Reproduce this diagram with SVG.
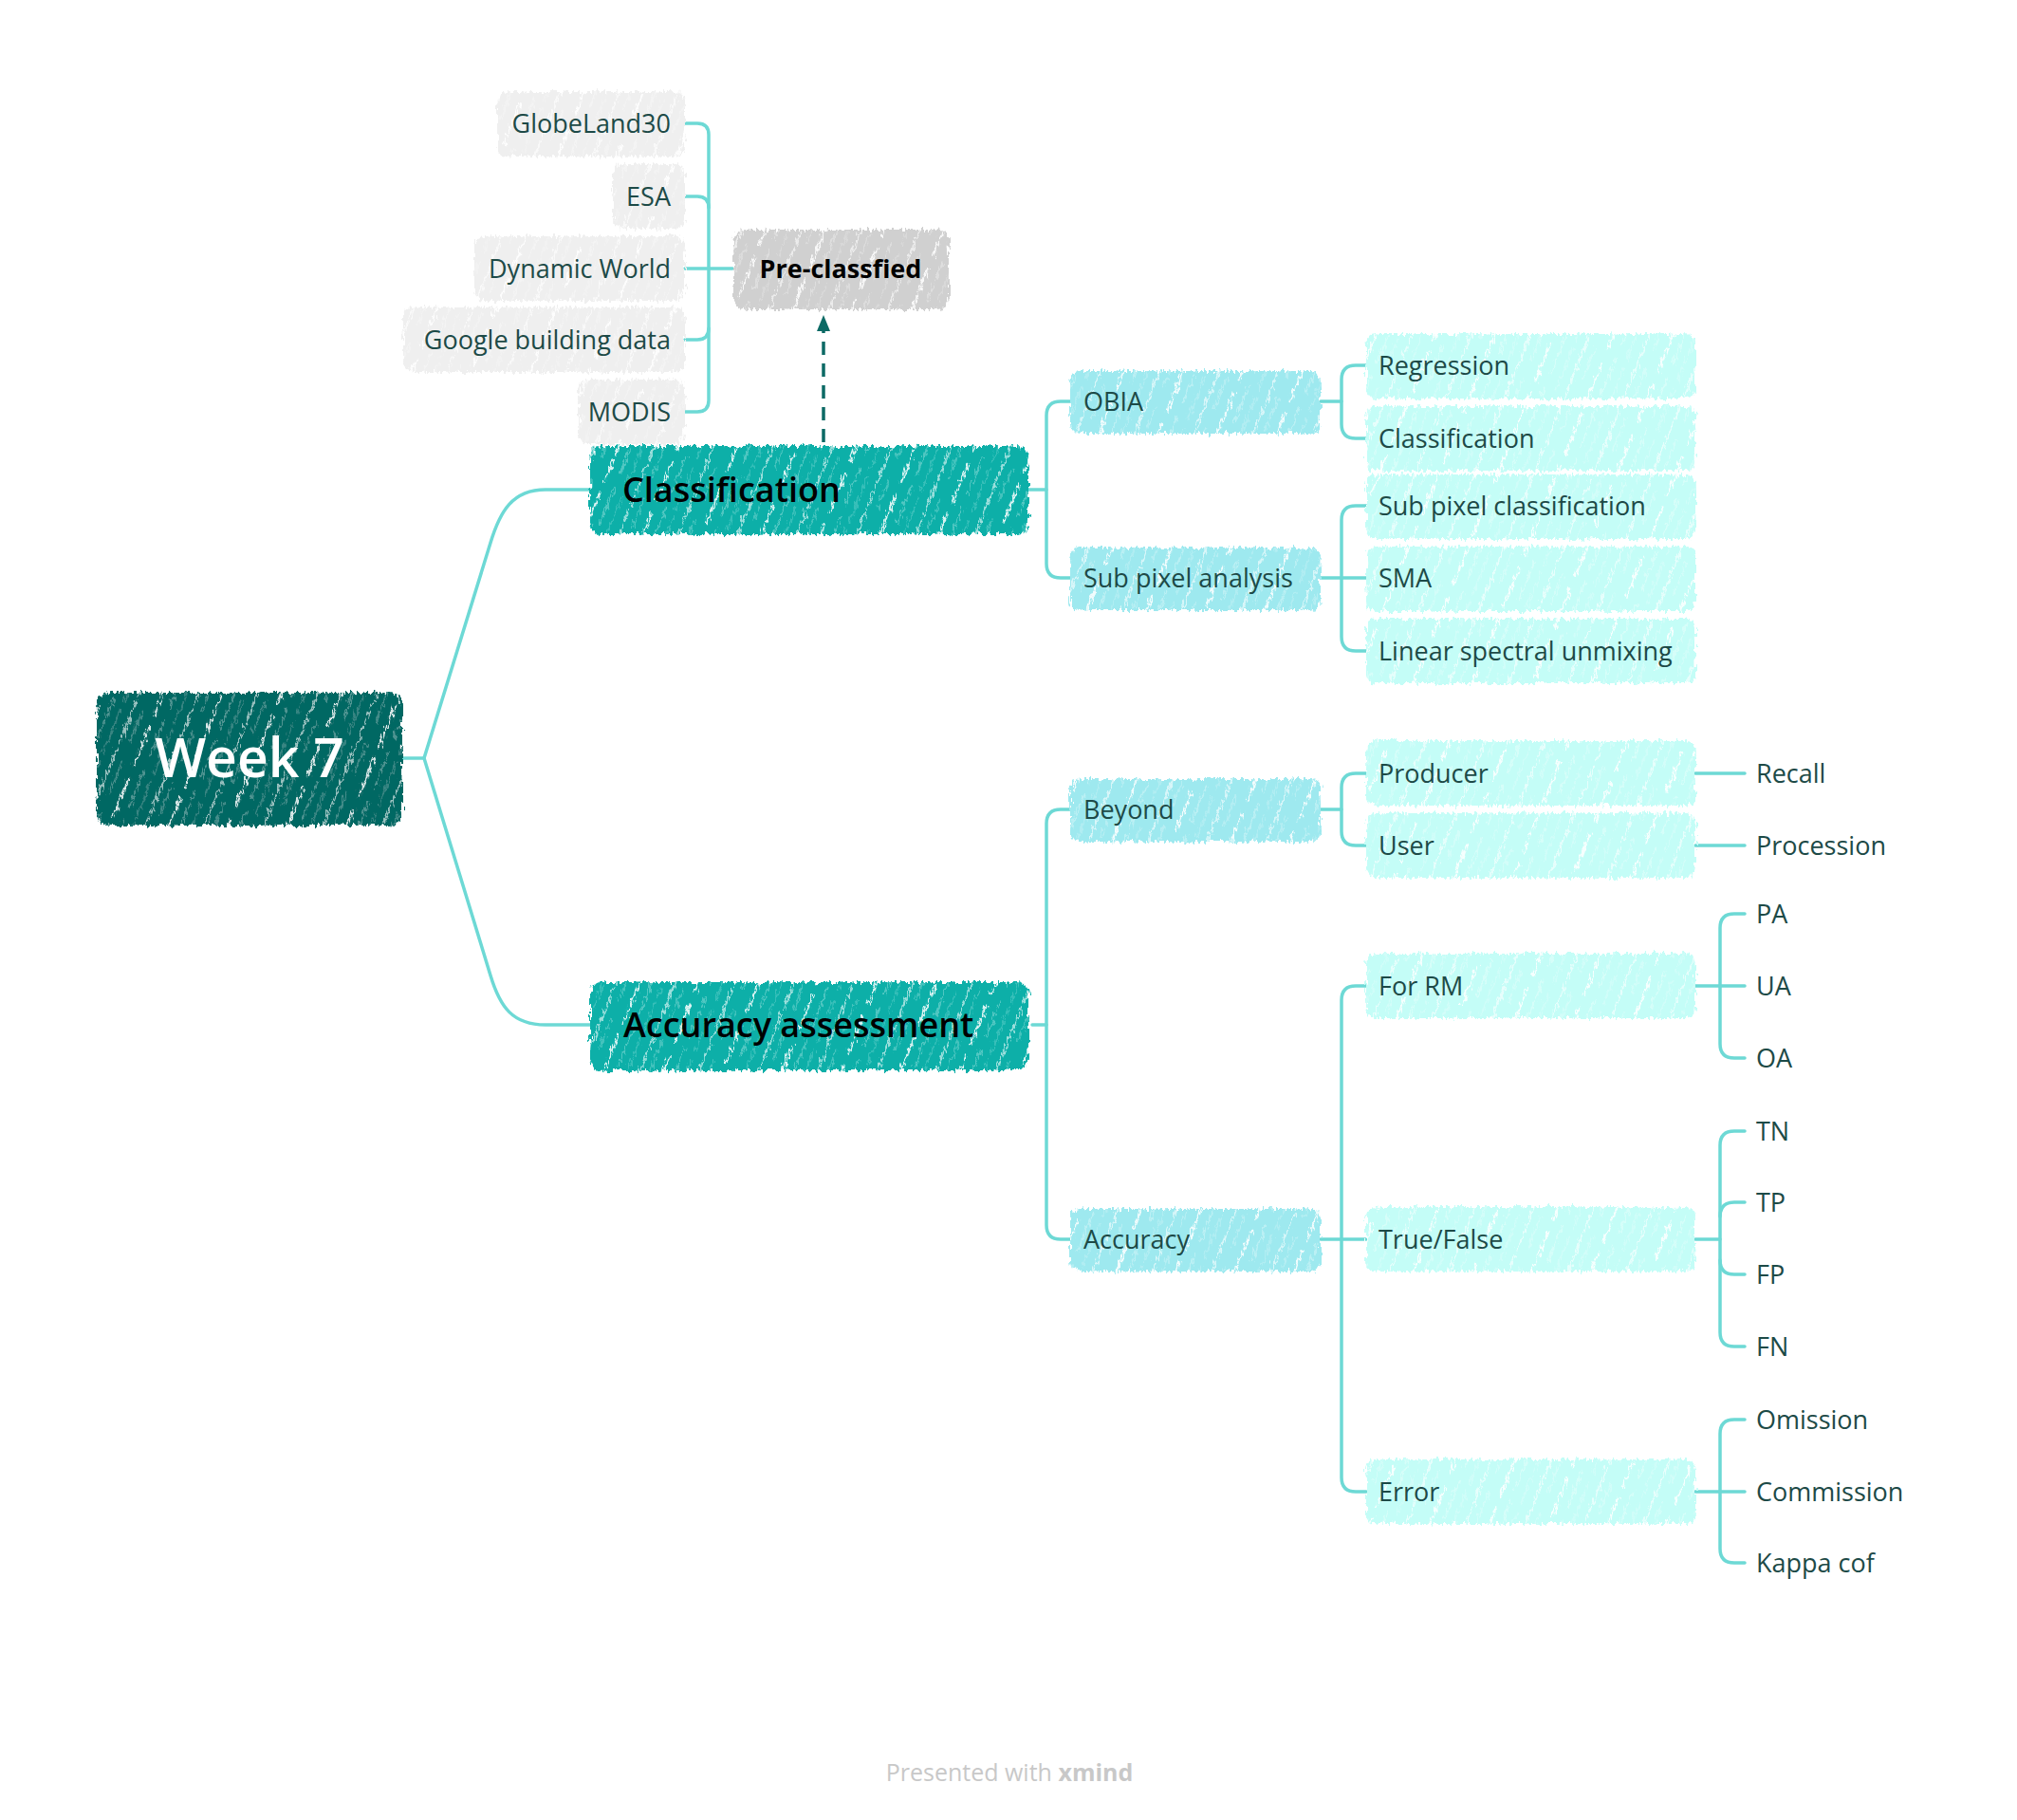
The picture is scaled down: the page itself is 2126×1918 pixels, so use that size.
<svg xmlns="http://www.w3.org/2000/svg" width="2126" height="1918" viewBox="0 0 2126 1918">
<defs>
<style>
.conn{fill:none;stroke:#6dd9d5;stroke-width:3.5;stroke-linecap:round;stroke-linejoin:round}
.t{font-family:"Open Sans","Liberation Sans",sans-serif;font-size:27px;fill:#1d4a47}
.tr{text-anchor:end}
.b1{font-family:"Open Sans","Liberation Sans",sans-serif;font-size:36px;font-weight:600;fill:#000}
.gray{fill:#efefef}
.pre{fill:#d0d0d0}
.l2{fill:#9ee9ef}
.l3{fill:#c4fdf7}
.main{fill:#07afa8}
.root{fill:#066763}
.hatch{fill:url(#hatch)}
.box{filter:url(#rough)}
</style>
<pattern id="hatch" width="58" height="58" patternUnits="userSpaceOnUse" patternTransform="rotate(22)">
<line x1="4" y1="0" x2="4" y2="58" stroke="#ffffff" stroke-opacity="0.75" stroke-width="1.6"/>
<line x1="14" y1="0" x2="14" y2="36" stroke="#ffffff" stroke-opacity="0.45" stroke-width="1.1"/>
<line x1="27" y1="12" x2="27" y2="58" stroke="#ffffff" stroke-opacity="0.85" stroke-width="2.2"/>
<line x1="39" y1="0" x2="39" y2="44" stroke="#ffffff" stroke-opacity="0.5" stroke-width="1.2"/>
<line x1="50" y1="8" x2="50" y2="58" stroke="#ffffff" stroke-opacity="0.4" stroke-width="1"/>
</pattern>
<filter id="rough" x="-5%" y="-15%" width="110%" height="130%">
<feTurbulence type="fractalNoise" baseFrequency="0.35 0.12" numOctaves="2" seed="3" result="n"/>
<feDisplacementMap in="SourceGraphic" in2="n" scale="10" xChannelSelector="R" yChannelSelector="G"/>
</filter>
</defs>
<rect width="2126" height="1918" fill="#ffffff"/>

<g id="connectors">
<path class="conn" d="M424,799 H447 L517,572 C527,539 540,516 575,516 H623"/>
<path class="conn" d="M447,799 L517,1028 C527,1061 540,1080 575,1080 H623"/>
<path class="conn" d="M772,283 H722"/>
<path class="conn" d="M722,130 H735 Q747,130 747,142 V422 Q747,434 735,434 H722"/>
<path class="conn" d="M722,207 H735 Q747,207 747,219"/>
<path class="conn" d="M722,358 H735 Q747,358 747,346"/>
<path class="conn" d="M1083,516 H1103"/>
<path class="conn" d="M1128,423 H1118 Q1103,423 1103,438 V594 Q1103,609 1118,609 H1128"/>
<path class="conn" d="M1392,423 H1414"/>
<path class="conn" d="M1440,385 H1429 Q1414,385 1414,400 V447 Q1414,462 1429,462 H1440"/>
<path class="conn" d="M1392,609 H1440"/>
<path class="conn" d="M1440,533 H1429 Q1414,533 1414,548 V671 Q1414,686 1429,686 H1440"/>
<path class="conn" d="M1088,1080 H1103"/>
<path class="conn" d="M1128,853 H1118 Q1103,853 1103,868 V1291 Q1103,1306 1118,1306 H1128"/>
<path class="conn" d="M1392,853 H1414"/>
<path class="conn" d="M1440,815 H1429 Q1414,815 1414,830 V876 Q1414,891 1429,891 H1440"/>
<path class="conn" d="M1392,1306 H1440"/>
<path class="conn" d="M1440,1039 H1429 Q1414,1039 1414,1054 V1557 Q1414,1572 1429,1572 H1440"/>
<path class="conn" d="M1787,815 H1839"/>
<path class="conn" d="M1787,891 H1839"/>
<path class="conn" d="M1787,1039 H1839"/>
<path class="conn" d="M1839,963 H1828 Q1813,963 1813,978 V1100 Q1813,1115 1828,1115 H1839"/>
<path class="conn" d="M1787,1306 H1813"/>
<path class="conn" d="M1839,1192 H1828 Q1813,1192 1813,1207 V1404 Q1813,1419 1828,1419 H1839"/>
<path class="conn" d="M1813,1282 Q1813,1267 1828,1267 H1839"/>
<path class="conn" d="M1813,1328 Q1813,1343 1828,1343 H1839"/>
<path class="conn" d="M1787,1572 H1839"/>
<path class="conn" d="M1839,1496 H1828 Q1813,1496 1813,1511 V1632 Q1813,1647 1828,1647 H1839"/>
<line x1="868" y1="466" x2="868" y2="348" stroke="#0c6a65" stroke-width="3.5" stroke-dasharray="14 9"/>
<polygon points="868,332 861,349 875,349" fill="#0c6a65"/>
</g>

<g id="node-week7">
<g class="box"><rect x="102" y="730" width="322" height="140" rx="14" class="root"/><rect x="102" y="730" width="322" height="140" rx="14" class="hatch"/></g>
<text x="263" y="819" text-anchor="middle" font-family="'Open Sans','Liberation Sans',sans-serif" font-size="57" font-weight="600" fill="#ffffff">Week 7</text>
</g>

<g id="node-classification">
<g class="box"><rect x="622" y="470" width="462" height="93" rx="12" class="main"/><rect x="622" y="470" width="462" height="93" rx="12" class="hatch"/></g>
<text x="656" y="529" class="b1">Classification</text>
</g>

<g id="node-accuracy-assessment">
<g class="box"><rect x="622" y="1035" width="462" height="93" rx="12" class="main"/><rect x="622" y="1035" width="462" height="93" rx="12" class="hatch"/></g>
<text x="657" y="1093" class="b1">Accuracy assessment</text>
</g>

<g id="node-preclassified">
<g class="box"><rect x="773" y="242" width="227" height="84" rx="12" class="pre"/><rect x="773" y="242" width="227" height="84" rx="12" class="hatch"/></g>
<text x="886" y="293" text-anchor="middle" font-family="'Open Sans','Liberation Sans',sans-serif" font-size="27" font-weight="700" fill="#000">Pre-classfied</text>
</g>

<g id="node-globeland30">
<g class="box"><rect x="524" y="97" width="198" height="68" rx="10" class="gray"/><rect x="524" y="97" width="198" height="68" rx="10" class="hatch"/></g>
<text x="707" y="140" class="t tr">GlobeLand30</text>
</g>
<g id="node-esa">
<g class="box"><rect x="646" y="173" width="76" height="68" rx="10" class="gray"/><rect x="646" y="173" width="76" height="68" rx="10" class="hatch"/></g>
<text x="707" y="217" class="t tr">ESA</text>
</g>
<g id="node-dynamic-world">
<g class="box"><rect x="500" y="249" width="222" height="68" rx="10" class="gray"/><rect x="500" y="249" width="222" height="68" rx="10" class="hatch"/></g>
<text x="707" y="293" class="t tr">Dynamic World</text>
</g>
<g id="node-google-building-data">
<g class="box"><rect x="425" y="324" width="297" height="68" rx="10" class="gray"/><rect x="425" y="324" width="297" height="68" rx="10" class="hatch"/></g>
<text x="707" y="368" class="t tr">Google building data</text>
</g>
<g id="node-modis">
<g class="box"><rect x="610" y="400" width="112" height="68" rx="10" class="gray"/><rect x="610" y="400" width="112" height="68" rx="10" class="hatch"/></g>
<text x="707" y="444" class="t tr">MODIS</text>
</g>

<g id="node-obia">
<g class="box"><rect x="1128" y="391" width="264" height="66" rx="10" class="l2"/><rect x="1128" y="391" width="264" height="66" rx="10" class="hatch"/></g>
<text x="1142" y="433" class="t">OBIA</text>
</g>
<g id="node-sub-pixel-analysis">
<g class="box"><rect x="1128" y="577" width="264" height="66" rx="10" class="l2"/><rect x="1128" y="577" width="264" height="66" rx="10" class="hatch"/></g>
<text x="1142" y="619" class="t">Sub pixel analysis</text>
</g>
<g id="node-beyond">
<g class="box"><rect x="1128" y="821" width="264" height="66" rx="10" class="l2"/><rect x="1128" y="821" width="264" height="66" rx="10" class="hatch"/></g>
<text x="1142" y="863" class="t">Beyond</text>
</g>
<g id="node-accuracy">
<g class="box"><rect x="1128" y="1274" width="264" height="66" rx="10" class="l2"/><rect x="1128" y="1274" width="264" height="66" rx="10" class="hatch"/></g>
<text x="1142" y="1316" class="t">Accuracy</text>
</g>

<g id="node-regression">
<g class="box"><rect x="1440" y="352" width="347" height="68" rx="10" class="l3"/><rect x="1440" y="352" width="347" height="68" rx="10" class="hatch"/></g>
<text x="1453" y="395" class="t">Regression</text>
</g>
<g id="node-classification-2">
<g class="box"><rect x="1440" y="428" width="347" height="68" rx="10" class="l3"/><rect x="1440" y="428" width="347" height="68" rx="10" class="hatch"/></g>
<text x="1453" y="472" class="t">Classification</text>
</g>
<g id="node-sub-pixel-classification">
<g class="box"><rect x="1440" y="500" width="347" height="68" rx="10" class="l3"/><rect x="1440" y="500" width="347" height="68" rx="10" class="hatch"/></g>
<text x="1453" y="543" class="t">Sub pixel classification</text>
</g>
<g id="node-sma">
<g class="box"><rect x="1440" y="576" width="347" height="68" rx="10" class="l3"/><rect x="1440" y="576" width="347" height="68" rx="10" class="hatch"/></g>
<text x="1453" y="619" class="t">SMA</text>
</g>
<g id="node-linear-spectral-unmixing">
<g class="box"><rect x="1440" y="652" width="347" height="68" rx="10" class="l3"/><rect x="1440" y="652" width="347" height="68" rx="10" class="hatch"/></g>
<text x="1453" y="696" class="t">Linear spectral unmixing</text>
</g>
<g id="node-producer">
<g class="box"><rect x="1440" y="781" width="347" height="68" rx="10" class="l3"/><rect x="1440" y="781" width="347" height="68" rx="10" class="hatch"/></g>
<text x="1453" y="825" class="t">Producer</text>
</g>
<g id="node-user">
<g class="box"><rect x="1440" y="857" width="347" height="68" rx="10" class="l3"/><rect x="1440" y="857" width="347" height="68" rx="10" class="hatch"/></g>
<text x="1453" y="901" class="t">User</text>
</g>
<g id="node-for-rm">
<g class="box"><rect x="1440" y="1005" width="347" height="68" rx="10" class="l3"/><rect x="1440" y="1005" width="347" height="68" rx="10" class="hatch"/></g>
<text x="1453" y="1049" class="t">For RM</text>
</g>
<g id="node-true-false">
<g class="box"><rect x="1440" y="1272" width="347" height="68" rx="10" class="l3"/><rect x="1440" y="1272" width="347" height="68" rx="10" class="hatch"/></g>
<text x="1453" y="1316" class="t">True/False</text>
</g>
<g id="node-error">
<g class="box"><rect x="1440" y="1538" width="347" height="68" rx="10" class="l3"/><rect x="1440" y="1538" width="347" height="68" rx="10" class="hatch"/></g>
<text x="1453" y="1582" class="t">Error</text>
</g>

<g id="node-recall"><text x="1851" y="825" class="t">Recall</text></g>
<g id="node-procession"><text x="1851" y="901" class="t">Procession</text></g>
<g id="node-pa"><text x="1851" y="973" class="t">PA</text></g>
<g id="node-ua"><text x="1851" y="1049" class="t">UA</text></g>
<g id="node-oa"><text x="1851" y="1125" class="t">OA</text></g>
<g id="node-tn"><text x="1851" y="1202" class="t">TN</text></g>
<g id="node-tp"><text x="1851" y="1277" class="t">TP</text></g>
<g id="node-fp"><text x="1851" y="1353" class="t">FP</text></g>
<g id="node-fn"><text x="1851" y="1429" class="t">FN</text></g>
<g id="node-omission"><text x="1851" y="1506" class="t">Omission</text></g>
<g id="node-commission"><text x="1851" y="1582" class="t">Commission</text></g>
<g id="node-kappa-cof"><text x="1851" y="1657" class="t">Kappa cof</text></g>

<text x="1064" y="1877" text-anchor="middle" font-family="'Open Sans','Liberation Sans',sans-serif" font-size="25" fill="#c8c8c8">Presented with <tspan font-weight="700">xmind</tspan></text>
</svg>
